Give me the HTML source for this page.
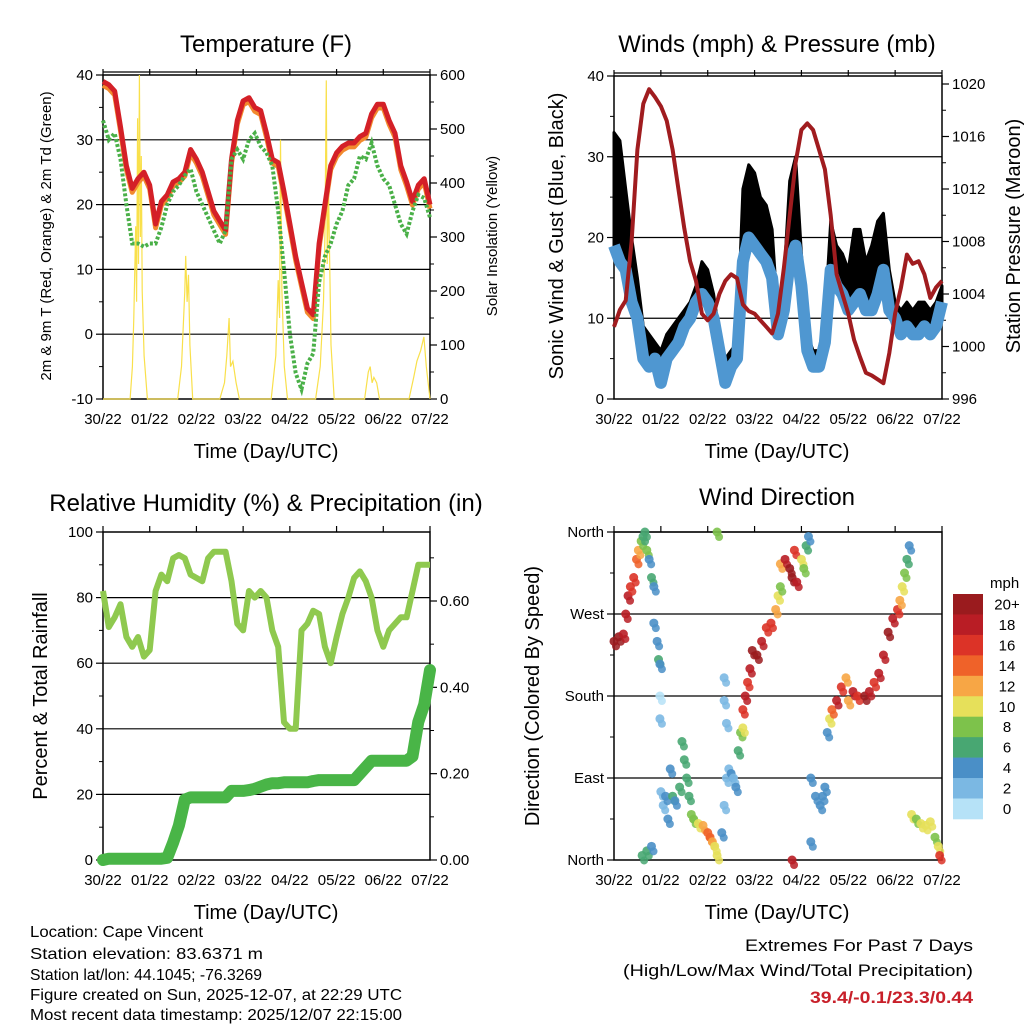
<!DOCTYPE html>
<html><head><meta charset="utf-8">
<style>
html,body{margin:0;padding:0;background:#fff;}
svg{display:block;font-family:"Liberation Sans",sans-serif;}
</style></head>
<body>
<svg id="root" xmlns="http://www.w3.org/2000/svg" width="1024" height="1024" viewBox="0 0 1024 1024">
<rect width="1024" height="1024" fill="#fff"/>
<g id="g1"></g>
<g id="g2"></g>
<g id="g3"></g>
<g id="g4"></g>
<text x="266" y="52" font-size="24" text-anchor="middle">Temperature (F)</text>
<text x="777" y="52" font-size="24" text-anchor="middle">Winds (mph) &amp; Pressure (mb)</text>
<text x="266" y="511" font-size="24" text-anchor="middle">Relative Humidity (%) &amp; Precipitation (in)</text>
<text x="777" y="505" font-size="24" text-anchor="middle">Wind Direction</text>
<text x="266" y="458" font-size="20" text-anchor="middle">Time (Day/UTC)</text>
<text x="777" y="458" font-size="20" text-anchor="middle">Time (Day/UTC)</text>
<text x="266" y="919" font-size="20" text-anchor="middle">Time (Day/UTC)</text>
<text x="777" y="919" font-size="20" text-anchor="middle">Time (Day/UTC)</text>
<text transform="translate(51,236) rotate(-90)" font-size="15" text-anchor="middle">2m &amp; 9m T (Red, Orange) &amp; 2m Td (Green)</text>
<text transform="translate(497,236) rotate(-90)" font-size="15" text-anchor="middle">Solar Insolation (Yellow)</text>
<text transform="translate(563,236) rotate(-90)" font-size="20" text-anchor="middle">Sonic Wind &amp; Gust (Blue, Black)</text>
<text transform="translate(1020,236) rotate(-90)" font-size="20" text-anchor="middle">Station Pressure (Maroon)</text>
<text transform="translate(47,696) rotate(-90)" font-size="20" text-anchor="middle">Percent &amp; Total Rainfall</text>
<text transform="translate(539,696) rotate(-90)" font-size="20" text-anchor="middle">Direction (Colored By Speed)</text>
<g font-size="16">
<text x="30" y="937" textLength="173" lengthAdjust="spacingAndGlyphs">Location: Cape Vincent</text>
<text x="30" y="959" textLength="233" lengthAdjust="spacingAndGlyphs">Station elevation: 83.6371 m</text>
<text x="30" y="980" textLength="232" lengthAdjust="spacingAndGlyphs">Station lat/lon: 44.1045; -76.3269</text>
<text x="30" y="1000" textLength="372" lengthAdjust="spacingAndGlyphs">Figure created on Sun, 2025-12-07, at 22:29 UTC</text>
<text x="30" y="1020" textLength="372" lengthAdjust="spacingAndGlyphs">Most recent data timestamp: 2025/12/07 22:15:00</text>
</g>
<g font-size="17" text-anchor="end">
<text x="973" y="951" textLength="228" lengthAdjust="spacingAndGlyphs">Extremes For Past 7 Days</text>
<text x="973" y="976" textLength="350" lengthAdjust="spacingAndGlyphs">(High/Low/Max Wind/Total Precipitation)</text>
<text x="973" y="1003" fill="#c8202a" font-weight="bold" textLength="163" lengthAdjust="spacingAndGlyphs">39.4/-0.1/23.3/0.44</text>
</g>
<g id="cbar"></g>
</svg>
<script>
const dayLabels=["30/22","01/22","02/22","03/22","04/22","05/22","06/22","07/22"];
const temp2m=[39,38.5,37.5,32,26,22.5,24,25,23,17,20.5,21.5,23.5,24,25,28.5,27,25,22,19,17.5,16,27,33,36,36.5,35,34.5,31,27,26.5,22,17,12,8,4,3,14,20,26,28,29,29.5,29.5,30.5,31,34,35.5,35.5,33,31,26,23.5,20.5,23,24,20];
const dew2m=[33,30,31,27,20,14,14,13.5,14,14,16.5,20,22,23,24.5,25.5,22,20,18,16,14,16,27,28.5,27,30,31,29,28,26,19,10,0,-6,-8.5,-4.5,-3,8,12,14,17,19,23,24,27.5,27,29.5,26,24,23,20,17,15.5,19,21.5,21,18];
const solarDays=[0,0.58,0.63,0.66,0.7,0.72,0.74,0.76,0.78,0.8,0.82,0.84,0.88,0.95,1.6,1.68,1.75,1.77,1.8,1.83,1.86,1.92,2.5,2.6,2.65,2.7,2.73,2.78,2.85,2.92,3.6,3.7,3.75,3.78,3.8,3.83,3.88,3.95,4.55,4.65,4.72,4.75,4.78,4.8,4.83,4.88,4.95,5.6,5.68,5.72,5.76,5.8,5.86,5.92,6.55,6.65,6.72,6.8,6.87,6.92,7];
const solarVals=[0,0,60,150,320,180,520,250,600,300,450,200,80,0,0,60,200,265,180,230,100,0,0,30,80,150,60,70,30,0,0,80,220,150,480,200,60,0,0,60,180,300,590,250,380,100,0,0,50,60,30,40,30,0,0,40,70,90,115,60,0];
const pressure=[1001.5,1002.8,1003.5,1008,1015,1018.5,1019.6,1019,1018.3,1017.2,1015,1012,1009,1006.5,1005,1002.5,1002,1002.5,1004,1005,1005.5,1005.2,1003.2,1002.7,1002.5,1002,1001.5,1001,1002.5,1006,1010,1014,1016.5,1017,1016.5,1015,1013.5,1010,1005.5,1004,1002.5,1000.5,999.2,998,997.8,997.5,997.2,999.5,1002.5,1004.5,1007,1006.3,1006.5,1005.5,1003.7,1004.5,1005];
const windSpd=[19,17,16,12,10,5,4,5,2,5,6,7,9,10,12,13,12,10,6,2,4,5,17,20,19,18,17,15,8,11,17,19,14,6,4,4,7,16,14,13,11,12,13,11,11,13,16,11,10,8,9,8,8,9,8,9,12];
const windGust=[33,32,26,20,15,9,8,7,6,8,9,10,11,12,14,17,16,13,8,5,6,7,26,29,28,25,24,21,10,15,27,30,18,8,6,6,10,22,19,18,16,21,21,17,19,22,23,16,12,11,12,11,12,12,11,12,14];
const rh=[82,71,74,78,68,65,68,62,64,82,87,85,92,93,92,87,86,85,92,94,94,94,85,72,70,82,80,82,80,70,65,42,40,40,70,72,76,75,65,60,68,75,80,86,88,85,80,70,65,70,72,74,74,82,90,90,90];
const precip=[0,0.003,0.003,0.003,0.003,0.003,0.003,0.003,0.003,0.003,0.003,0.005,0.04,0.08,0.14,0.145,0.145,0.145,0.145,0.145,0.145,0.145,0.16,0.16,0.16,0.162,0.165,0.17,0.175,0.178,0.178,0.18,0.18,0.18,0.18,0.18,0.183,0.185,0.185,0.185,0.185,0.185,0.185,0.185,0.2,0.215,0.23,0.23,0.23,0.23,0.23,0.23,0.23,0.24,0.32,0.36,0.44];
const dirDays=[0,0.1,0.2,0.25,0.3,0.35,0.42,0.48,0.52,0.58,0.62,0.66,0.7,0.75,0.8,0.85,0.85,0.92,0.95,0.98,0.98,0.98,0.6,0.7,0.8,1.0,1.05,1.1,1.15,1.2,1.25,1.3,1.4,1.45,1.5,1.55,1.6,1.65,1.7,1.8,1.9,2.0,2.05,2.1,2.15,2.2,2.3,2.35,2.4,2.45,2.5,2.55,2.6,2.35,2.35,2.4,2.65,2.7,2.75,2.75,2.8,2.85,2.9,2.95,3.05,3.15,3.25,3.35,3.45,3.5,3.55,3.55,3.65,3.75,3.8,3.9,3.85,4.0,4.1,4.15,4.05,4.2,4.3,4.4,4.45,4.5,4.2,4.55,4.6,4.65,4.75,4.85,4.95,5.0,5.1,5.2,5.35,5.45,5.55,5.65,5.75,5.85,5.95,6.05,6.1,6.15,6.2,6.25,6.3,6.35,6.45,6.55,6.65,6.75,6.85,6.92,6.95,3.8,2.2];
const dirDeg=[240,245,248,270,290,300,310,330,340,350,355,360,340,330,310,300,260,240,220,215,180,155,5,10,15,75,60,70,45,100,70,65,80,130,110,90,70,50,45,40,38,30,25,20,15,5,30,60,90,100,95,90,80,175,200,150,120,140,145,165,180,195,210,230,225,240,255,260,275,290,300,325,330,320,310,305,340,330,345,355,320,90,70,60,70,80,20,140,155,165,175,190,200,175,185,180,180,185,195,205,225,250,265,275,285,300,315,330,345,50,45,40,38,42,25,15,5,0,360];
const dirSpd=[20,20,19,18,18,17,16,14,12,9,7,6,9,5,6,5,4,5,6,4,1,2,6,6,4,3,3,4,4,4,6,5,6,6,6,6,6,8,8,10,12,14,14,12,10,10,4,3,3,2,4,3,4,2,2,2,6,8,10,16,18,16,18,20,20,18,16,16,12,10,8,12,18,20,20,18,16,10,6,4,8,4,4,4,4,4,4,4,10,14,18,16,12,12,18,16,20,18,16,18,18,20,18,16,12,10,8,6,4,10,8,10,10,10,8,10,16,18,8];
const speedLabels=["20+","18","16","14","12","10","8","6","4","2","0"];
const speedColors=["#9a1b1e","#b91d25","#dc3327","#ef6229","#f7a645","#e6e05a","#7dc24b","#48a772","#4a8fc7","#7bb8e3","#b6e2f7"];

const NS="http://www.w3.org/2000/svg";
function mk(parent,tag,attrs){const e=document.createElementNS(NS,tag);for(const k in attrs)e.setAttribute(k,attrs[k]);parent.appendChild(e);return e;}
function linear(d0,d1,r0,r1){return v=>r0+(v-d0)/(d1-d0)*(r1-r0);}
function idxDay(i,n){return i*7/(n-1);}

function frame(g,L,R,T,B,yTicks,yScale,yLabels,rightTicks,rScale,rLabels,gridVals,minorL,minorR){
  const x=linear(0,7,L,R);
  gridVals.forEach(v=>{const l=mk(g,'line',{x1:L,x2:R,y1:yScale(v),y2:yScale(v),stroke:'#000','stroke-width':1.2});
    });
  const bx=mk(g,'rect',{x:L,y:T,width:R-L,height:B-T,fill:'none',stroke:'#000','stroke-width':1.5});
  
  dayLabels.forEach((s,i)=>{const xx=x(i);
    const tk=mk(g,'line',{x1:xx,x2:xx,y1:T,y2:T-6,stroke:'#000','stroke-width':1.2});
    
    const t=mk(g,'text',{x:xx,y:B+25,'font-size':15,'text-anchor':'middle'});t.textContent=s;
    });
  yTicks.forEach((v,i)=>{const yy=yScale(v);
    const tk=mk(g,'line',{x1:L,x2:L-7,y1:yy,y2:yy,stroke:'#000','stroke-width':1.2});
    
    const t=mk(g,'text',{x:L-10,y:yy+5,'font-size':15,'text-anchor':'end'});t.textContent=yLabels[i];
    });
  (minorL||[]).forEach(v=>{const yy=yScale(v);const tk=mk(g,'line',{x1:L,x2:L-4,y1:yy,y2:yy,stroke:'#000','stroke-width':1});
    });
  if(rightTicks){rightTicks.forEach((v,i)=>{const yy=rScale(v);
    const tk=mk(g,'line',{x1:R,x2:R+7,y1:yy,y2:yy,stroke:'#000','stroke-width':1.2});
    
    const t=mk(g,'text',{x:R+10,y:yy+5,'font-size':15});t.textContent=rLabels[i];
    });
   (minorR||[]).forEach(v=>{const yy=rScale(v);const tk=mk(g,'line',{x1:R,x2:R+4,y1:yy,y2:yy,stroke:'#000','stroke-width':1});
    });}
  return x;
}
function pts(arr,x,y){return arr.map((v,i)=>x(idxDay(i,arr.length)).toFixed(1)+','+y(v).toFixed(1)).join(' ');}

// Panel 1
(function(){
 const g=document.getElementById('g1');const L=103,R=430,T=75,B=399;
 const y=linear(-10,40,B,T), ys=linear(0,600,B,T);
 const x=frame(g,L,R,T,B,[-10,0,10,20,30,40],y,["-10","0","10","20","30","40"],[0,100,200,300,400,500,600],ys,["0","100","200","300","400","500","600"],[0,10,20,30],[-5,5,15,25,35],[50,150,250,350,450,550]);
 const top=mk(g,'line',{x1:L,x2:R,y1:T-3,y2:T-3,stroke:'#000','stroke-width':1.2});
 const sp=mk(g,'polyline',{points:solarDays.map((d,i)=>x(d).toFixed(1)+','+ys(solarVals[i]).toFixed(1)).join(' '),fill:'none',stroke:'#f9e04b','stroke-width':1.2});
 
 const or=mk(g,'polyline',{points:pts(temp2m.map(v=>v-0.6),x,y),fill:'none',stroke:'#f28a2e','stroke-width':5,'stroke-linejoin':'round'});
 
 const rd=mk(g,'polyline',{points:pts(temp2m,x,y),fill:'none',stroke:'#d42027','stroke-width':5,'stroke-linejoin':'round'});
 
 const gd=mk(g,'polyline',{points:pts(dew2m,x,y),fill:'none',stroke:'#4ab048','stroke-width':4,'stroke-dasharray':'3 2'});
 
})();

// Panel 2
(function(){
 const g=document.getElementById('g2');const L=614,R=942,T=76,B=399;
 const y=linear(0,40,B,T), yp=linear(996,1020,B,84);
 const x=frame(g,L,R,T,B,[0,10,20,30,40],y,["0","10","20","30","40"],[996,1000,1004,1008,1012,1016,1020],yp,["996","1000","1004","1008","1012","1016","1020"],[10,20,30],[5,15,25,35],[998,1002,1006,1010,1014,1018]);
 const top=mk(g,'line',{x1:L,x2:R,y1:T-3,y2:T-3,stroke:'#000','stroke-width':1.2});
 const n=windGust.length;
 const up=windGust.map((v,i)=>x(idxDay(i,n)).toFixed(1)+','+y(v).toFixed(1));
 const lo=windSpd.map((v,i)=>x(idxDay(i,n)).toFixed(1)+','+y(v).toFixed(1)).reverse();
 const ga=mk(g,'polygon',{points:up.concat(lo).join(' '),fill:'#000',stroke:'#000','stroke-width':3,'stroke-linejoin':'round'});
 
 const bl=mk(g,'polyline',{points:pts(windSpd,x,y),fill:'none',stroke:'#4f97d1','stroke-width':12,'stroke-linejoin':'round'});
 
 const pl=mk(g,'polyline',{points:pts(pressure,x,yp),fill:'none',stroke:'#a01c1f','stroke-width':4,'stroke-linejoin':'round'});
 
})();

// Panel 3
(function(){
 const g=document.getElementById('g3');const L=103,R=430,T=532,B=860;
 const y=linear(0,100,B,T), yr=linear(0,0.6,B,601);
 const x=frame(g,L,R,T,B,[0,20,40,60,80,100],y,["0","20","40","60","80","100"],[0,0.2,0.4,0.6],yr,["0.00","0.20","0.40","0.60"],[20,40,60,80],[10,30,50,70,90],[0.1,0.3,0.5,0.7]);
 const h=mk(g,'polyline',{points:pts(rh,x,y),fill:'none',stroke:'#8fc94f','stroke-width':6,'stroke-linejoin':'round'});
 
 const p=mk(g,'polyline',{points:pts(precip,x,yr),fill:'none',stroke:'#49b547','stroke-width':12,'stroke-linejoin':'round','stroke-linecap':'round'});
 
})();

// Panel 4
(function(){
 const g=document.getElementById('g4');const L=614,R=942,T=532,B=860;
 const y=linear(0,360,B,T);
 const x=frame(g,L,R,T,B,[0,90,180,270,360],y,["North","East","South","West","North"],null,null,null,[90,180,270,360],[45,135,225,315]);
 function col(s){let k=Math.floor(s/2);if(k>10)k=10;return speedColors[10-k];}
 dirDays.forEach((d,i)=>{
  const c=mk(g,'circle',{cx:x(d),cy:y(dirDeg[i]),r:4.5,fill:col(dirSpd[i]),'fill-opacity':0.9});
  
  
  const c2=mk(g,'circle',{cx:x(d)+2,cy:y(dirDeg[i])+5,r:4,fill:col(dirSpd[i]),'fill-opacity':0.85});
  
  
 });
 const cb=document.getElementById('cbar');
 const t=mk(cb,'text',{x:990,y:588,'font-size':15});t.textContent='mph';
 
 speedColors.forEach((c,i)=>{const yy=594+i*20.45;
  const r=mk(cb,'rect',{x:953,y:yy,width:30,height:20.8,fill:c});
  
  const tl=mk(cb,'text',{x:1007,y:yy+15.5,'font-size':15,'text-anchor':'middle'});tl.textContent=speedLabels[i];
  });
})();
</script>
</body></html>
